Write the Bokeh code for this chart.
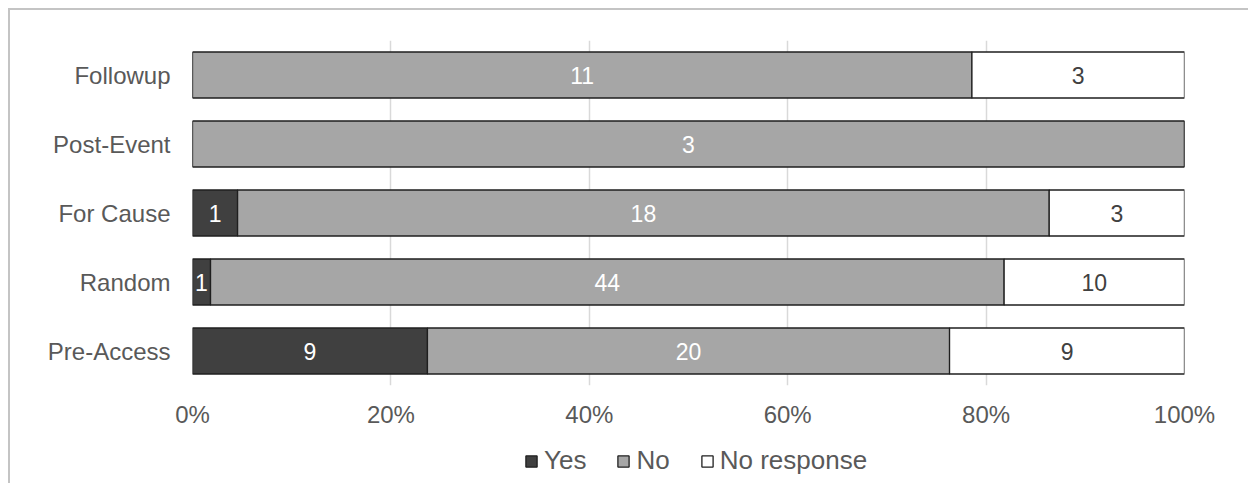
from bokeh.plotting import figure
from bokeh.layouts import column
from bokeh.models import (ColumnDataSource, FactorRange, Range1d, FixedTicker,
                          NumeralTickFormatter, Legend, LegendItem)
from bokeh.core.properties import value
from bokeh.embed import file_html
from bokeh.resources import INLINE

# ---- data ----
categories = ["Pre-Access", "Random", "For Cause", "Post-Event", "Followup"]
yes = [9, 1, 1, 0, 0]
no = [20, 44, 18, 3, 11]
no_response = [9, 10, 3, 0, 3]
series_names = ["Yes", "No", "No response"]
x_ticks = [0, 0.2, 0.4, 0.6, 0.8, 1.0]

# ---- styles ----
fills = ["#404040", "#a6a6a6", "#ffffff"]
label_colors = ["#ffffff", "#ffffff", "#404040"]
FONT = "Liberation Sans"
GREY_TXT = "#595959"
BAR_LINE = "#1f1f1f"

p = figure(width=1238, height=425,
           y_range=FactorRange(factors=categories, range_padding=0),
           x_range=Range1d(0, 1),
           output_backend="svg", toolbar_location=None,
           min_border_left=182, min_border_right=64,
           min_border_top=30, min_border_bottom=50)

series = [yes, no, no_response]
totals = [sum(v) for v in zip(*series)]
lefts = [0.0] * len(categories)
for name, vals, fill, lc in zip(series_names, series, fills, label_colors):
    fr = [v / t for v, t in zip(vals, totals)]
    rights = [l + f for l, f in zip(lefts, fr)]
    src = ColumnDataSource(dict(cat=categories, left=lefts, right=rights))
    p.hbar(y="cat", left="left", right="right", height=0.667, source=src,
           fill_color=fill, line_color=BAR_LINE, line_width=1.3)
    keep = [i for i, v in enumerate(vals) if v > 0]
    lsrc = ColumnDataSource(dict(
        cat=[categories[i] for i in keep],
        mid=[(lefts[i] + rights[i]) / 2 for i in keep],
        txt=[str(vals[i]) for i in keep]))
    p.text(x="mid", y="cat", text="txt", source=lsrc,
           text_align="center", text_baseline="middle",
           text_font=value(FONT), text_font_size="23px", text_color=lc)
    lefts = rights

# axes
p.xaxis.ticker = FixedTicker(ticks=x_ticks)
p.xaxis.formatter = NumeralTickFormatter(format="0%")
for ax in (p.xaxis, p.yaxis):
    ax.axis_line_color = None
    ax.major_tick_line_color = None
    ax.minor_tick_line_color = None
    ax.major_tick_out = 0
    ax.major_tick_in = 0
    ax.major_label_text_font = FONT
    ax.major_label_text_font_size = "24px"
    ax.major_label_text_color = GREY_TXT
p.xaxis.major_label_standoff = 15
p.yaxis.major_label_standoff = 22

p.ygrid.grid_line_color = None
p.xgrid.ticker = FixedTicker(ticks=x_ticks)
p.xgrid.grid_line_color = "#d9d9d9"
p.xgrid.grid_line_width = 1.5
p.outline_line_color = None

# ---- legend strip (separate figure below, frame aligned with main plot) ----
lg = figure(width=1238, height=48, x_range=Range1d(0, 1), y_range=Range1d(0, 1),
            output_backend="svg", toolbar_location=None,
            x_axis_location=None, y_axis_location=None,
            min_border_left=0, min_border_right=0, min_border_top=0, min_border_bottom=0)
lg.grid.grid_line_color = None
lg.outline_line_color = None
leg_renderers = []
for fill in fills:
    # legend-swatch carrier: a zero-width bar placed outside the visible range
    r = lg.hbar(y=[-5], left=[0], right=[0], height=0.5,
                fill_color=fill, line_color=BAR_LINE, line_width=1.3)
    leg_renderers.append(r)

legend = Legend(items=[LegendItem(label=n, renderers=[r]) for n, r in zip(series_names, leg_renderers)],
                orientation="horizontal", location=(332, 7),
                glyph_width=14, glyph_height=14, label_standoff=6, spacing=30,
                padding=0, margin=0, border_line_color=None, background_fill_alpha=0,
                label_text_font=FONT, label_text_font_size="26px",
                label_text_color=GREY_TXT)
lg.add_layout(legend)

layout = column(p, lg, spacing=0, margin=(8, 0, 0, 8),
                styles={"border-top": "2px solid #c4c4c4",
                        "border-left": "2px solid #c4c4c4"})

open("out.html", "w").write(file_html(layout, INLINE))
